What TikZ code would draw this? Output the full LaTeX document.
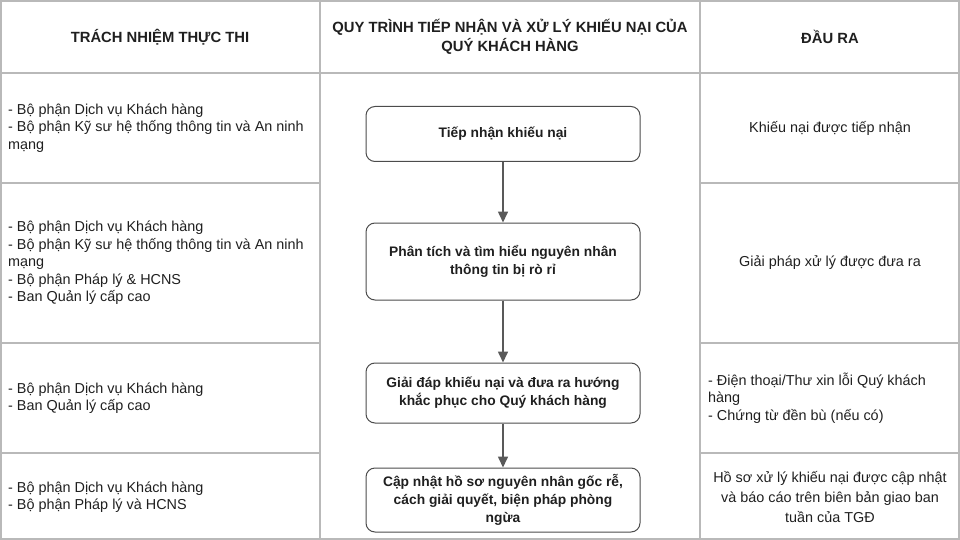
\documentclass[tikz,border=0pt]{standalone}
\usepackage{fontspec}
\setmainfont{Liberation Sans}
\usetikzlibrary{arrows.meta}

\begin{document}
\begin{tikzpicture}[x=1pt,y=-1pt,
  grid/.style={draw=gray!55,line width=1.6pt},
  cell/.style={font=\fontsize{14.4}{17.5}\selectfont,text=black!88,align=left,inner sep=0pt},
  head/.style={font=\bfseries\fontsize{14.8}{19}\selectfont,text=black!88,align=center,inner sep=0pt},
  stepbox/.style={draw=black!70,line width=1pt,rounded corners=9pt,minimum width=274pt,
    font=\bfseries\fontsize{13.8}{18}\selectfont,text=black!88,align=center},
  flow/.style={-{Triangle[length=11pt,width=10pt]},black!65,line width=1.6pt}]
\useasboundingbox (0,0) rectangle (960,540);
% table
\draw[grid] (0.8,0.8) rectangle (959.2,539.2);
\draw[grid] (320,0) -- (320,540); \draw[grid] (700,0) -- (700,540);
\draw[grid] (0,73) -- (960,73);
\foreach \y in {183,343,453} { \draw[grid] (0,\y) -- (320,\y); \draw[grid] (700,\y) -- (960,\y); }
% headers
\node[head] (hresp) at (160,37) {TRÁCH NHIỆM THỰC THI};
\node[head] (hproc) at (510,37) {QUY TRÌNH TIẾP NHẬN VÀ XỬ LÝ KHIẾU NẠI CỦA\\QUÝ KHÁCH HÀNG};
\node[head] (hout) at (830,37) {ĐẦU RA};
% responsibilities
\node[cell,anchor=west] (resp1) at (8,128) {- Bộ phận Dịch vụ Khách hàng\\- Bộ phận Kỹ sư hệ thống thông tin và An ninh\\mạng};
\node[cell,anchor=west] (resp2) at (8,263) {- Bộ phận Dịch vụ Khách hàng\\- Bộ phận Kỹ sư hệ thống thông tin và An ninh\\mạng\\- Bộ phận Pháp lý \& HCNS\\- Ban Quản lý cấp cao};
\node[cell,anchor=west] (resp3) at (8,398) {- Bộ phận Dịch vụ Khách hàng\\- Ban Quản lý cấp cao};
\node[cell,anchor=west] (resp4) at (8,497) {- Bộ phận Dịch vụ Khách hàng\\- Bộ phận Pháp lý và HCNS};
% process
\node[stepbox,minimum height=55pt] (receive) at (503,134) {Tiếp nhận khiếu nại};
\node[stepbox,minimum height=77pt] (analyse) at (503,261.5) {Phân tích và tìm hiểu nguyên nhân\\thông tin bị rò rỉ};
\node[stepbox,minimum height=60pt] (resolve) at (503,393) {Giải đáp khiếu nại và đưa ra hướng\\khắc phục cho Quý khách hàng};
\node[stepbox,minimum height=64pt] (update) at (503,500) {Cập nhật hồ sơ nguyên nhân gốc rễ,\\cách giải quyết, biện pháp phòng\\ngừa};
\draw[flow] (receive) -- (analyse);
\draw[flow] (analyse) -- (resolve);
\draw[flow] (resolve) -- (update);
% outputs
\node[cell,align=center] (out1) at (830,128) {Khiếu nại được tiếp nhận};
\node[cell,align=center] (out2) at (830,263) {Giải pháp xử lý được đưa ra};
\node[cell,anchor=west] (out3) at (708,398) {- Điện thoại/Thư xin lỗi Quý khách\\hàng\\- Chứng từ đền bù (nếu có)};
\node[cell,align=center,font=\fontsize{14.4}{20}\selectfont] (out4) at (830,497) {Hồ sơ xử lý khiếu nại được cập nhật\\và báo cáo trên biên bản giao ban\\tuần của TGĐ};
\end{tikzpicture}
\end{document}
